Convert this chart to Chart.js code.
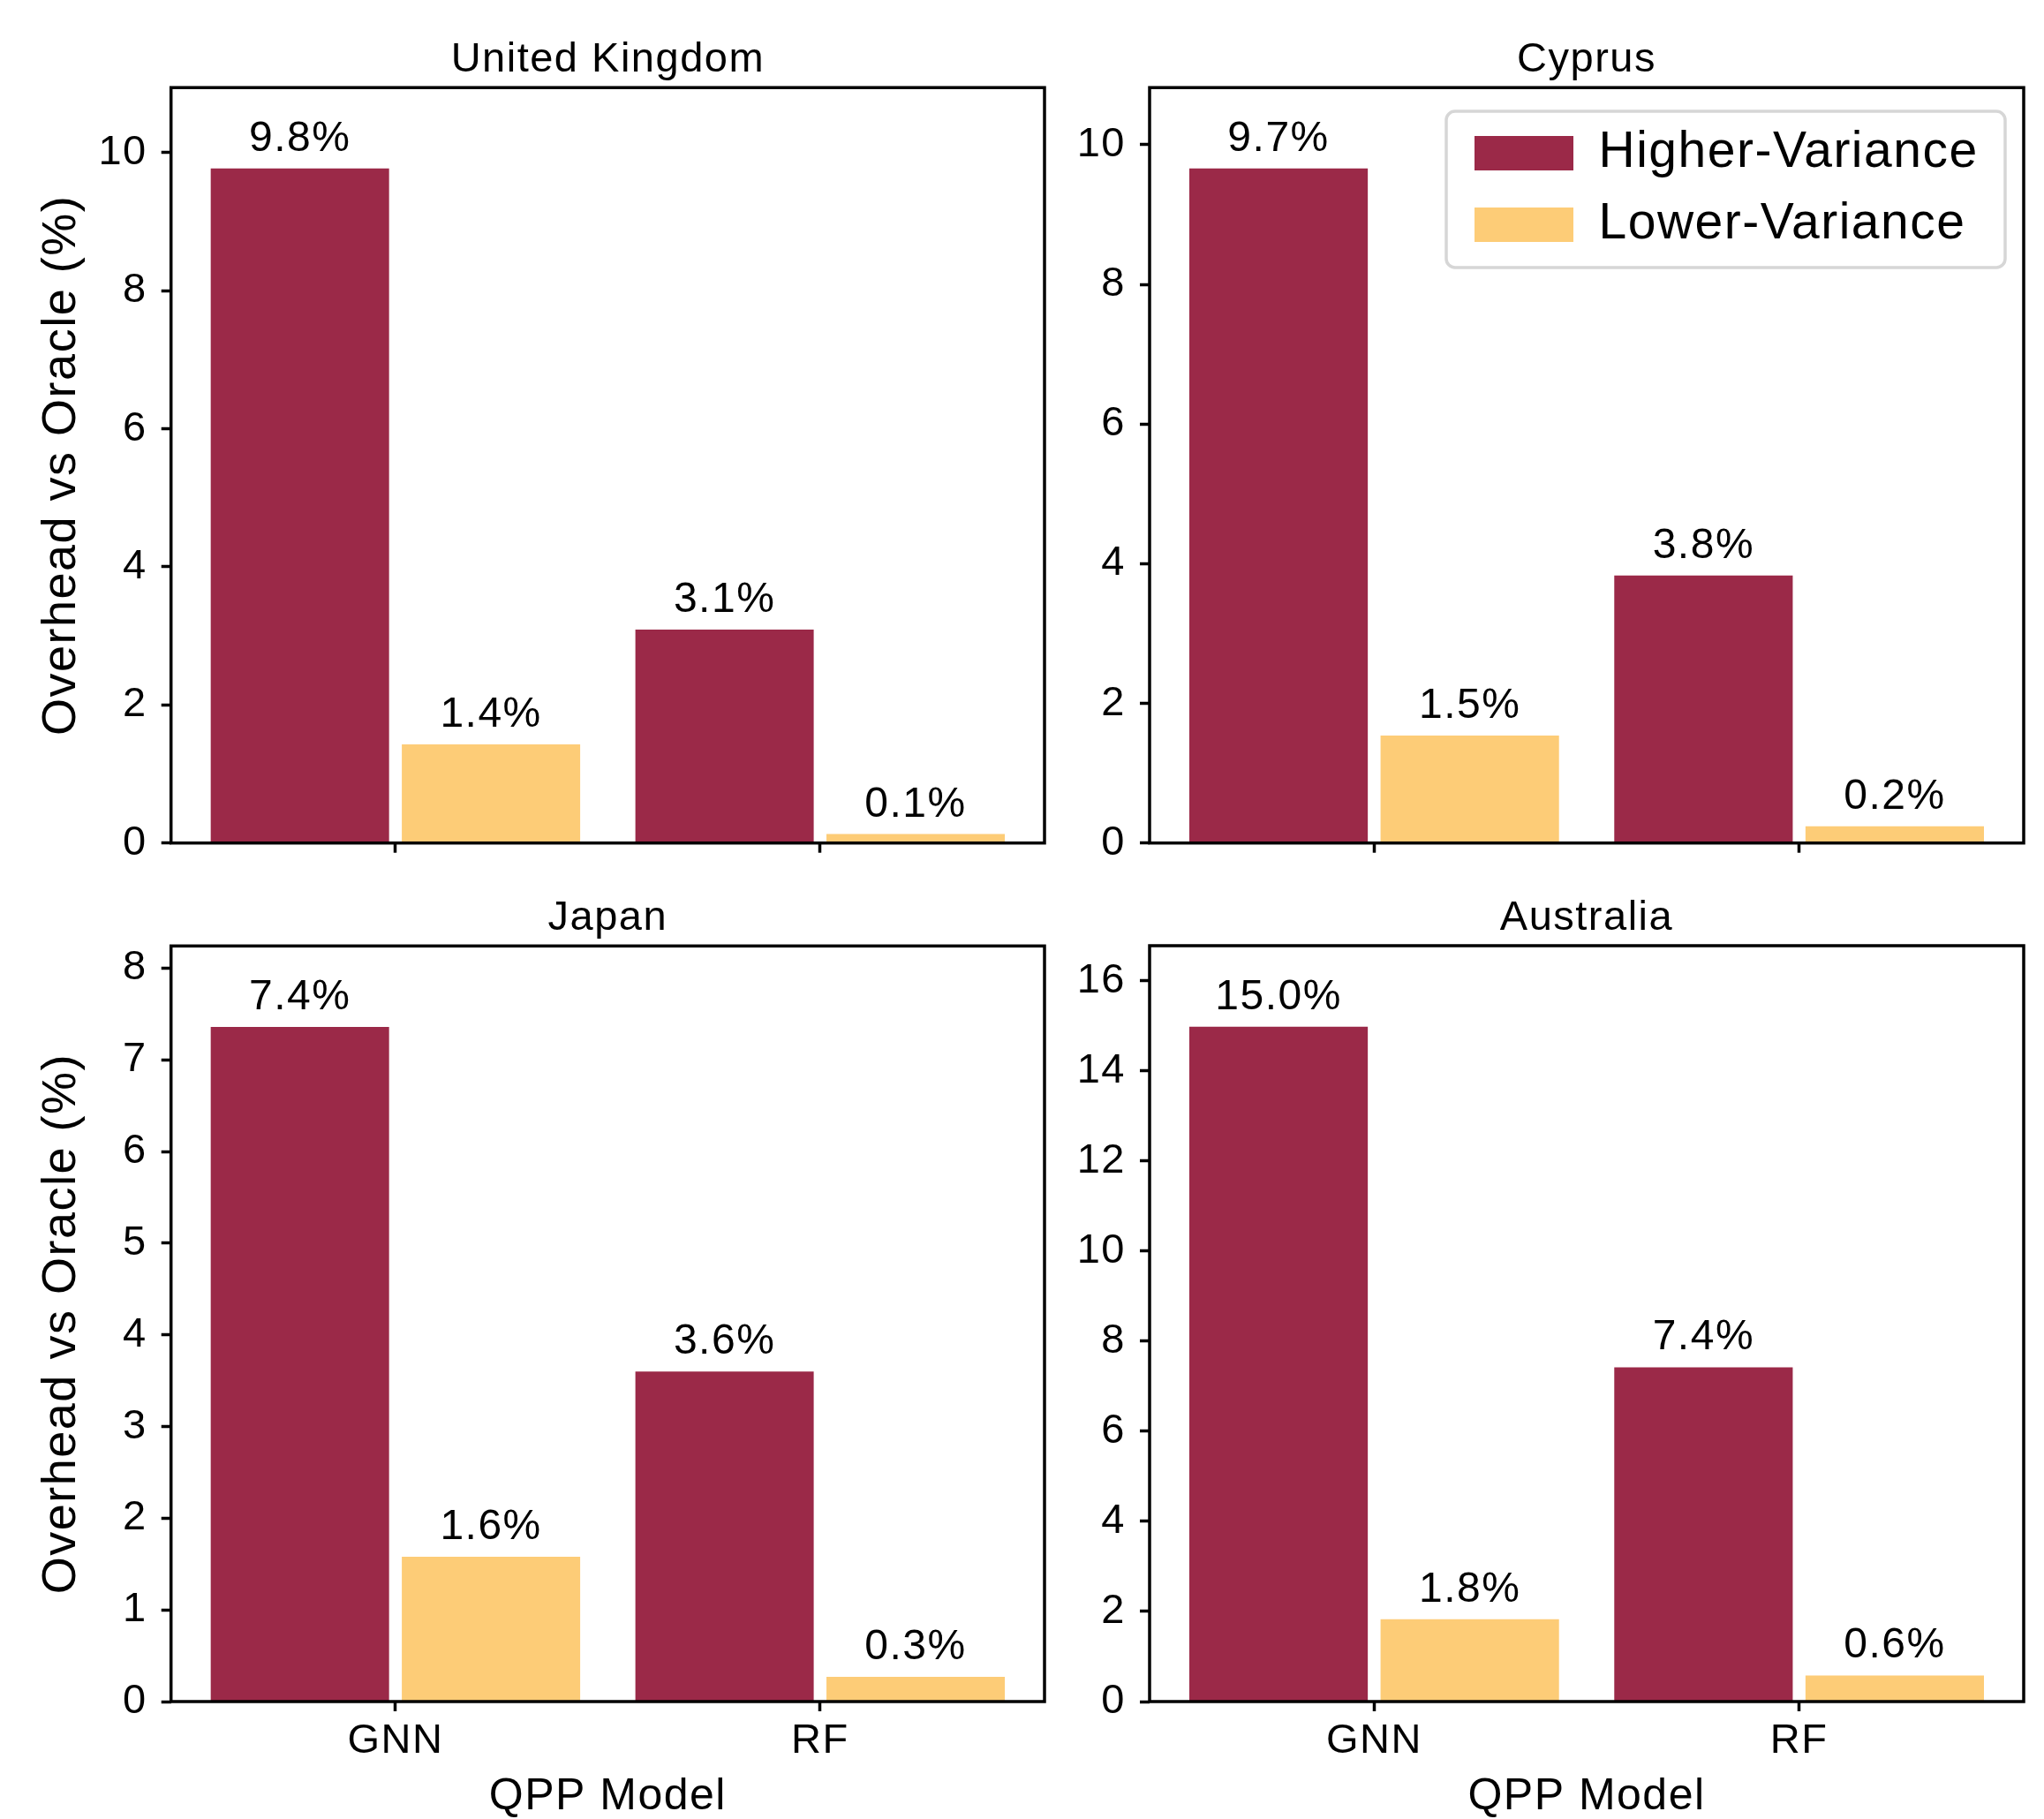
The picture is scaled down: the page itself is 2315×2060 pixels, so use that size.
<!DOCTYPE html>
<html>
<head>
<meta charset="utf-8">
<script src="https://cdn.jsdelivr.net/npm/chart.js@4.4.1/dist/chart.umd.min.js"></script>
<style>
  body { margin: 0; background: #fff; }
  #wrap { position: relative; width: 2315px; height: 2060px; }
  #wrap canvas { position: absolute; }
</style>
</head>
<body>
<div id="wrap"></div>
<script>
// data
const countries = ['United Kingdom', 'Cyprus', 'Japan', 'Australia'];
const models = ['GNN', 'RF'];
const seriesNames = ['Higher-Variance', 'Lower-Variance'];
const higherVariance = [[9.77, 3.09], [9.66, 3.83], [7.36, 3.60], [14.98, 7.42]];
const lowerVariance = [[1.43, 0.13], [1.54, 0.24], [1.58, 0.27], [1.83, 0.58]];
const yTickSteps = [2, 2, 1, 2];

const colors = ['#9b2948', '#fdcc77'];
const FONT = "'Liberation Sans', Arial, sans-serif";
Chart.defaults.font.family = FONT;
Chart.defaults.color = '#000';

// canvas placement and plot area (canvas px: left, top, right, bottom)
const panels = [
  {x: 0, y: 0, w: 1240, h: 1000, area: [193.7, 99.2, 1183, 954.7]},
  {x: 1190, y: 0, w: 1125, h: 1000, area: [112, 99.2, 1102, 954.7]},
  {x: 0, y: 1000, w: 1240, h: 1060, area: [193.7, 71.3, 1183, 927]},
  {x: 1190, y: 1000, w: 1125, h: 1060, area: [112, 71, 1102, 927]}
];

// slightly wider glyph spacing, like the original renderer
const spacing = {
  id: 'spacing',
  beforeUpdate(chart) { chart.ctx.letterSpacing = '1.5px'; },
  beforeDraw(chart) { chart.ctx.letterSpacing = '1.5px'; }
};

const frame = {
  id: 'frame',
  afterDatasetsDraw(chart) {
    const {ctx, chartArea: a} = chart;
    ctx.save();
    ctx.strokeStyle = '#000';
    ctx.lineWidth = 3.5;
    ctx.strokeRect(a.left, a.top, a.right - a.left, a.bottom - a.top);
    ctx.restore();
  }
};

const barLabels = {
  id: 'barLabels',
  afterDatasetsDraw(chart) {
    const ctx = chart.ctx;
    ctx.save();
    ctx.font = '48px ' + FONT;
    ctx.fillStyle = '#000';
    ctx.textAlign = 'center';
    ctx.textBaseline = 'alphabetic';
    chart.data.datasets.forEach((ds, i) => {
      chart.getDatasetMeta(i).data.forEach((bar, j) => {
        ctx.fillText(ds.data[j].y.toFixed(1) + '%', bar.x, bar.y - 20);
      });
    });
    ctx.restore();
  }
};

// legend sits inside the Cyprus plot, top right, with a rounded grey frame
const legendPlace = {
  id: 'legendPlace',
  afterLayout(chart) {
    const lg = chart.legend;
    if (!lg || !lg.options.display) return;
    lg.left = 456; lg.top = 121;
    lg.right = 1090; lg.bottom = 121 + 200;
    lg.width = lg.right - lg.left; lg.height = lg.bottom - lg.top;
  },
  beforeDraw(chart) {
    const lg = chart.legend;
    if (!lg || !lg.options.display) return;
    const ctx = chart.ctx;
    ctx.save();
    ctx.beginPath();
    ctx.roundRect(448, 126, 633, 177, 10);
    ctx.fillStyle = '#fff';
    ctx.fill();
    ctx.strokeStyle = '#d6d6d6';
    ctx.lineWidth = 3.5;
    ctx.stroke();
    ctx.restore();
  }
};

const wrap = document.getElementById('wrap');

panels.forEach((p, k) => {
  const cv = document.createElement('canvas');
  cv.width = p.w; cv.height = p.h;
  cv.style.left = p.x + 'px'; cv.style.top = p.y + 'px';
  cv.style.width = p.w + 'px'; cv.style.height = p.h + 'px';
  wrap.appendChild(cv);

  const bottomRow = k >= 2;
  const leftCol = k % 2 === 0;
  const seriesData = [higherVariance[k], lowerVariance[k]];
  const yMax = Math.max(...higherVariance[k], ...lowerVariance[k]) * 1.12;
  const titleMid = p.area[1] - 31;

  new Chart(cv, {
    type: 'bar',
    data: {
      datasets: seriesData.map((vals, i) => ({
        label: seriesNames[i],
        data: vals.map((v, j) => ({x: j, y: v})),
        backgroundColor: colors[i],
        borderWidth: 0,
        categoryPercentage: 0.9,
        barPercentage: 0.42 / 0.45
      }))
    },
    options: {
      responsive: false,
      animation: false,
      devicePixelRatio: 1,
      layout: {padding: {left: 0, top: 0, right: p.w - p.area[2], bottom: 0}},
      scales: {
        x: {
          type: 'linear',
          offset: false,
          min: -0.5285,
          max: 1.5285,
          bounds: 'data',
          afterBuildTicks: s => { s.ticks = models.map((m, i) => ({value: i})); },
          afterFit: s => { s.height = p.h - p.area[3]; },
          grid: {display: true, offset: false, drawOnChartArea: false, drawTicks: true,
                 tickLength: 11, tickWidth: 3.5, tickColor: '#000'},
          border: {display: false},
          ticks: {display: bottomRow, padding: 6, maxRotation: 0, autoSkip: false,
                  font: {size: 47}, callback: (v, i) => models[i]},
          title: {display: bottomRow, text: 'QPP Model',
                  font: {size: 50, lineHeight: 1}, padding: {top: 0, bottom: 0}}
        },
        y: {
          min: 0,
          max: yMax,
          bounds: 'data',
          afterFit: s => { s.width = p.area[0]; },
          grid: {display: true, drawOnChartArea: false, drawTicks: true,
                 tickLength: 11, tickWidth: 3.5, tickColor: '#000'},
          border: {display: false},
          ticks: {stepSize: yTickSteps[k], includeBounds: false, padding: 16, font: {size: 47}},
          title: {display: leftCol, text: 'Overhead vs Oracle (%)',
                  font: {size: 54, lineHeight: 1}, padding: {top: 43, bottom: 0}}
        }
      },
      plugins: {
        title: {
          display: true,
          text: countries[k],
          fullSize: false,
          color: '#000',
          font: {size: 47, weight: 'normal', lineHeight: 1.2},
          padding: {top: titleMid - 28.2, bottom: p.area[1] - 56.4 - (titleMid - 28.2)}
        },
        legend: {
          display: k === 1,
          position: 'chartArea',
          align: 'start',
          labels: {boxWidth: 112, boxHeight: 39, padding: 24, color: '#000',
                   font: {size: 57}}
        },
        tooltip: {enabled: false}
      }
    },
    plugins: [spacing, legendPlace, frame, barLabels]
  });
});
</script>
</body>
</html>
